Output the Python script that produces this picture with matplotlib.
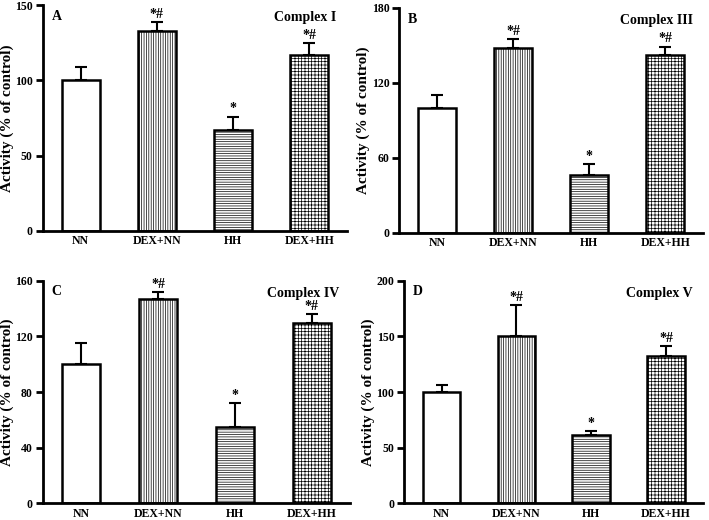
import matplotlib
matplotlib.use("Agg")
import matplotlib.pyplot as plt
import numpy as np

plt.rcParams['font.family'] = ['Liberation Serif', 'DejaVu Serif']
plt.rcParams['font.weight'] = 'bold'
plt.rcParams['hatch.linewidth'] = 0.5
plt.rcParams['hatch.color'] = '#333333'

groups = ["NN", "DEX+NN", "HH", "DEX+HH"]

a_vals = [100, 133, 67, 117]
a_err = [9, 6, 9, 8]
b_vals = [100, 148, 46, 142]
b_err = [10, 7, 9, 7]
c_vals = [100, 147, 55, 130]
c_err = [15, 5, 17, 6]
d_vals = [100, 150, 61, 132]
d_err = [6, 28, 4, 9]

sig = ["", "*#", "*", "*#"]

panels = [
    ("A", "Complex I", a_vals, a_err, 150, [0, 50, 100, 150], [0.060, 0.556, 0.430, 0.434]),
    ("B", "Complex III", b_vals, b_err, 180, [0, 60, 120, 180], [0.563, 0.552, 0.429, 0.433]),
    ("C", "Complex IV", c_vals, c_err, 160, [0, 40, 80, 120, 160], [0.060, 0.032, 0.434, 0.428]),
    ("D", "Complex V", d_vals, d_err, 200, [0, 50, 100, 150, 200], [0.570, 0.032, 0.422, 0.428]),
]

hatches = ["", "|||||||", "-------", "+++++"]

fig = plt.figure(figsize=(7.09, 5.2), dpi=100)
for letter, title, vals, errs, ymax, ticks, rect in panels:
    ax = fig.add_axes(rect)
    x = np.arange(len(groups))
    for i in range(len(groups)):
        ax.bar(x[i], vals[i], width=0.5, color='white', edgecolor='black',
               linewidth=1.8, hatch=hatches[i], zorder=2)
        ax.errorbar(x[i], vals[i], yerr=[[0], [errs[i]]], fmt='none', ecolor='black',
                    elinewidth=1.5, capsize=4, capthick=1.5, zorder=1)
        if sig[i]:
            ax.text(x[i], vals[i] + errs[i] + ymax * 0.005, sig[i], ha='center', va='bottom',
                    fontsize=10, fontweight='bold')
    ax.set_xlim(-0.5, 3.5)
    ax.set_ylim(0, ymax)
    ax.set_yticks(ticks)
    ax.set_xticks(x)
    ax.set_xticklabels(groups)
    ax.spines['top'].set_visible(False)
    ax.spines['right'].set_visible(False)
    ax.spines['left'].set_linewidth(2)
    ax.spines['bottom'].set_linewidth(2)
    ax.tick_params(axis='y', width=2, length=5, labelsize=8.5, pad=2)
    ax.tick_params(axis='x', length=0, pad=3, labelsize=8.5)
    for lab in ax.get_xticklabels() + ax.get_yticklabels():
        lab.set_fontweight('bold')
    ax.set_ylabel("Activity (% of control)", fontsize=11, fontweight='bold', labelpad=1)
    ax.text(0.03, 0.95, letter, transform=ax.transAxes, fontsize=10, fontweight='bold', va='center')
    ax.text(0.965, 0.945, title, transform=ax.transAxes, fontsize=10, fontweight='bold',
            va='center', ha='right')

fig.savefig("out.png", dpi=100)
